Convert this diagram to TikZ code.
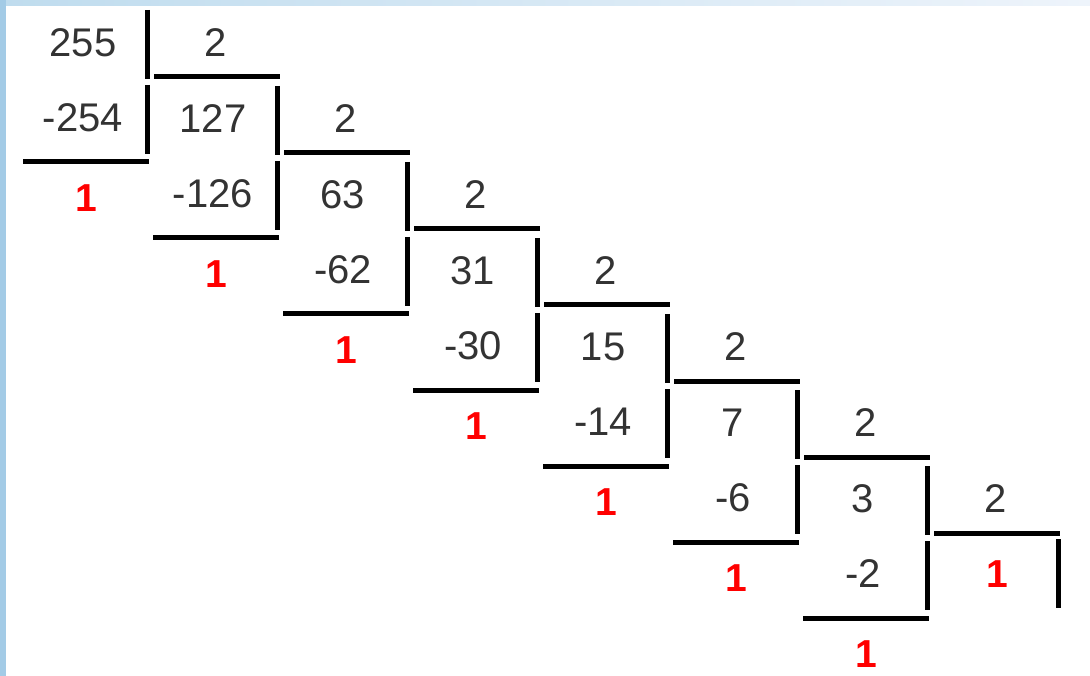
\documentclass[tikz,border=0pt]{standalone}
\usepackage{fontspec}
\setmainfont{Liberation Sans}
\definecolor{txt}{HTML}{333333}
\definecolor{redd}{HTML}{FF0000}
\definecolor{bluetop}{HTML}{BFDCEE}
\definecolor{blueend}{HTML}{EEF4FB}
\definecolor{blueleft}{HTML}{A3CBE6}
\begin{document}
\begin{tikzpicture}[x=1pt,y=-1pt,
  num/.style={inner sep=0pt, text=txt, font=\fontsize{40}{48}\selectfont},
  rem/.style={inner sep=0pt, text=redd, font=\fontsize{39}{46}\selectfont\bfseries},
  bar/.style={line width=5pt, black}]
\useasboundingbox (0,0) rectangle (1090,676);
\fill[white] (0,0) rectangle (1090,676);
\shade[left color=bluetop, right color=blueend] (0,0) rectangle (1090,6);
\fill[blueleft] (0,0) rectangle (6,676);
\foreach \k/\a/\b in {0/255/-254, 1/127/-126, 2/63/-62, 3/31/-30, 4/15/-14, 5/7/-6, 6/3/-2} {
  \node[num] (div\k) at (83+130*\k, 43+76*\k) {\a};
  \node[num] (two\k) at (216+130*\k, 43+76*\k) {2};
  \node[num] (sub\k) at (83+130*\k, 118+76*\k) {\b};
  \node[rem] (rem\k) at (86+130*\k, 198+76*\k) {1};
  \draw[bar] (147+130*\k, 10+76*\k) -- (147+130*\k, 79+76*\k);
  \draw[bar] (147+130*\k, 85+76*\k) -- (147+130*\k, 154+76*\k);
  \draw[bar] (154+130*\k, 77+76*\k) -- (280+130*\k, 77+76*\k);
  \draw[bar] (23+130*\k, 162+76*\k) -- (149+130*\k, 162+76*\k);
}
\node[rem] (quot) at (997, 574) {1};
\draw[bar] (1058, 539) -- (1058, 608);
\end{tikzpicture}
\end{document}
